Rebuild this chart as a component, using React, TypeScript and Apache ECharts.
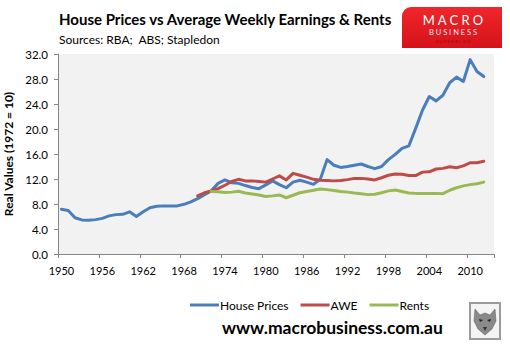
import React, { useEffect, useRef } from "react";
import * as echarts from "echarts";

const years: string[] = Array.from({ length: 64 }, (_, i) => String(1950 + i));

const housePrices = [
  7.15, 6.95, 5.8, 5.45, 5.4, 5.5, 5.7, 6.1, 6.3, 6.35,
  6.75, 6.0, 6.75, 7.4, 7.65, 7.7, 7.7, 7.7, 7.95, 8.35,
  8.85, 9.5, 10.1, 11.3, 11.85, 11.4, 11.3, 10.95, 10.65, 10.45,
  11.05, 11.7, 11.1, 10.6, 11.5, 11.8, 11.5, 11.15, 11.95, 15.1,
  14.2, 13.85, 14.0, 14.2, 14.4, 14.0, 13.65, 14.0, 15.1, 15.95,
  16.9, 17.3, 20.1, 23.0, 25.2, 24.5, 25.4, 27.4, 28.3, 27.6,
  31.1, 29.2, 28.4,
];
const aweStartYear = "1970";
const awe = [
  9.3, 9.8, 10.1, 10.45, 11.0, 11.6, 11.95, 11.7, 11.7, 11.6,
  11.5, 12.0, 12.5, 11.85, 12.9, 12.6, 12.3, 11.95, 11.8, 11.75,
  11.7, 11.75, 11.9, 12.1, 12.1, 12.0, 11.85, 12.2, 12.6, 12.8,
  12.75, 12.55, 12.55, 13.1, 13.15, 13.6, 13.7, 13.95, 13.8, 14.1,
  14.6, 14.6, 14.85,
];
const rentsStartYear = "1972";
const rents = [
  10.0, 9.95, 9.85, 9.9, 10.05, 9.75, 9.6, 9.45, 9.2, 9.3,
  9.45, 9.0, 9.4, 9.8, 10.0, 10.2, 10.4, 10.3, 10.15, 10.0,
  9.9, 9.75, 9.65, 9.5, 9.55, 9.8, 10.1, 10.25, 10.0, 9.75,
  9.7, 9.7, 9.7, 9.7, 9.65, 10.2, 10.6, 10.9, 11.1, 11.25,
  11.5,
];
const seriesNames = ["House Prices", "AWE", "Rents"];
const seriesColors = ["#4a7ebb", "#be4b48", "#98b954"];

function pad(start: string, vals: number[]): (number | null)[] {
  const offset = years.indexOf(start);
  return years.map((_, i) => (i >= offset && i - offset < vals.length ? vals[i - offset] : null));
}

const FONT = "Lato, 'Open Sans', sans-serif";

export default function App() {
  const ref = useRef<HTMLDivElement>(null);
  useEffect(() => {
    if (!ref.current) return;
    const chart = echarts.init(ref.current, undefined, { renderer: "svg" });
    const datasets = [pad("1950", housePrices), pad(aweStartYear, awe), pad(rentsStartYear, rents)];
    chart.setOption({
      animation: false,
      backgroundColor: "#ffffff",
      textStyle: { fontFamily: FONT },
      grid: {
        left: 58,
        top: 54,
        right: 16,
        bottom: 94,
        show: true,
        backgroundColor: "#f2f2f2",
        borderWidth: 0,
        containLabel: false,
        outerBoundsMode: "none",
      },
      legend: {
        data: seriesNames,
        left: 190,
        top: 299,
        padding: 0,
        icon: "rect",
        itemWidth: 29,
        itemHeight: 3,
        itemGap: 12,
        textStyle: { fontFamily: FONT, fontSize: 12, color: "#000", padding: [0, 0, 0, -4] },
      },
      xAxis: {
        type: "category",
        data: years,
        boundaryGap: true,
        axisLine: { lineStyle: { color: "#868686", width: 1 } },
        axisTick: { show: true, length: 4, interval: 5, lineStyle: { color: "#868686" } },
        axisLabel: { interval: 5, color: "#000", fontSize: 11, margin: 11, fontFamily: FONT },
        splitLine: { show: false },
      },
      yAxis: {
        type: "value",
        min: 0,
        max: 32,
        interval: 4,
        name: "Real Values (1972 = 10)",
        nameLocation: "middle",
        nameRotate: 90,
        nameGap: 42,
        nameTextStyle: { fontFamily: FONT, fontWeight: "bold", fontSize: 12, color: "#000" },
        axisLine: { show: true, lineStyle: { color: "#868686", width: 1 } },
        axisTick: { show: true, length: 4, lineStyle: { color: "#868686" } },
        axisLabel: {
          color: "#000",
          fontSize: 11.5,
          margin: 10,
          fontFamily: FONT,
          formatter: (v: number) => v.toFixed(1),
        },
        splitLine: { show: false },
      },
      series: seriesNames.map((name, k) => ({
        name,
        type: "line",
        data: datasets[k],
        showSymbol: false,
        symbol: "none",
        smooth: false,
        connectNulls: false,
        color: seriesColors[k],
        lineStyle: { width: 3, color: seriesColors[k], cap: "round", join: "round" },
      })),
      graphic: [
        {
          type: "text",
          left: 59,
          top: 11,
          style: {
            text: "House Prices vs Average Weekly Earnings & Rents",
            font: `bold 15px ${FONT}`,
            fill: "#000",
          },
        },
        {
          type: "text",
          left: 59,
          top: 33,
          style: { text: "Sources: RBA;  ABS; Stapledon", font: `12px ${FONT}`, fill: "#000" },
        },
        {
          type: "group",
          left: 402,
          top: 7,
          children: [
            {
              type: "rect",
              shape: { x: 0, y: 0, width: 100, height: 41, r: [9, 0, 0, 0] },
              style: {
                fill: new echarts.graphic.LinearGradient(0, 0, 0, 1, [
                  { offset: 0, color: "#f0262b" },
                  { offset: 1, color: "#d5121a" },
                ]),
              },
            },
            {
              type: "text",
              x: 51,
              y: 13,
              style: {
                text: "M A C R O",
                font: `13px ${FONT}`,
                fill: "#ffffff",
                align: "center",
                verticalAlign: "middle",
              },
            },
            {
              type: "text",
              x: 51,
              y: 25,
              style: {
                text: "B U S I N E S S",
                font: `7.5px ${FONT}`,
                fill: "#ffe5e5",
                align: "center",
                verticalAlign: "middle",
              },
            },
            {
              type: "text",
              x: 51,
              y: 34.5,
              style: {
                text: "S U P E R B L O G",
                font: `4.5px ${FONT}`,
                fill: "#9a0a0f",
                align: "center",
                verticalAlign: "middle",
              },
            },
          ],
        },
        {
          type: "text",
          left: 222,
          top: 318,
          style: { text: "www.macrobusiness.com.au", font: `bold 17.5px ${FONT}`, fill: "#000" },
        },
        {
          type: "group",
          left: 469,
          top: 302,
          children: [
            {
              type: "rect",
              shape: { x: 0, y: 0, width: 30, height: 36 },
              style: { fill: "#f4f4f4", stroke: "#9a9a9a", lineWidth: 2 },
            },
            {
              type: "polygon",
              shape: {
                points: [
                  [5, 6], [10, 12], [15, 10], [20, 12], [25, 6], [26, 18], [22, 26], [15, 32], [8, 26], [4, 18],
                ],
              },
              style: { fill: "#8a8a8a", stroke: "#555", lineWidth: 0.5 },
            },
            {
              type: "polygon",
              shape: { points: [[9, 16], [13, 17], [10, 19]] },
              style: { fill: "#222" },
            },
            {
              type: "polygon",
              shape: { points: [[21, 16], [17, 17], [20, 19]] },
              style: { fill: "#222" },
            },
            {
              type: "polygon",
              shape: { points: [[13, 24], [17, 24], [15, 28]] },
              style: { fill: "#333" },
            },
          ],
        },
      ],
    });
    return () => chart.dispose();
  }, []);
  return (
    <div
      ref={ref}
      style={{ position: "fixed", left: 0, top: 0, width: 510, height: 348 }}
    />
  );
}
